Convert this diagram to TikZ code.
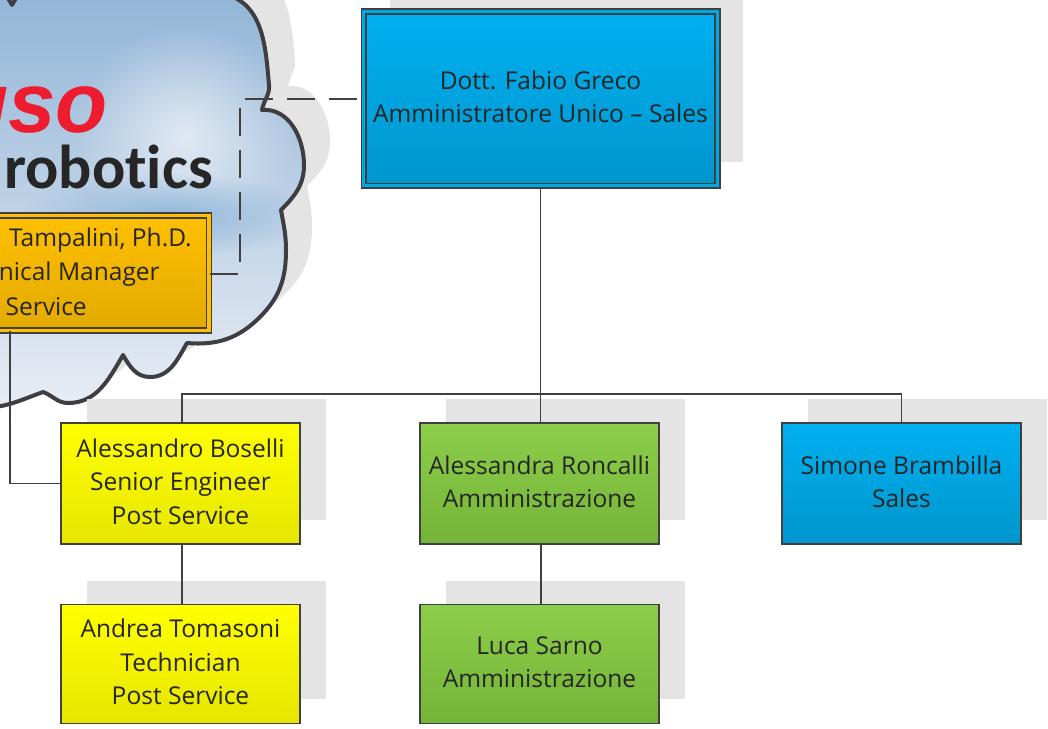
\documentclass[tikz,border=0pt]{standalone}
\usepackage{fontspec}
\setmainfont{Open Sans}
\newfontfamily\logofont[Ligatures=NoCommon]{Carlito}
\newfontfamily\redfont{Liberation Sans}
\usetikzlibrary{shadows,fadings}

\definecolor{shadowgray}{RGB}{228,228,228}
\definecolor{linegray}{RGB}{64,64,64}
\definecolor{cloudline}{RGB}{62,62,66}
\definecolor{logored}{RGB}{237,28,46}
\definecolor{cloudtop}{RGB}{142,178,214}
\definecolor{cloudmid}{RGB}{168,197,224}
\definecolor{cloudlow}{RGB}{232,237,244}
\definecolor{cloudband}{RGB}{140,180,216}
\definecolor{bluetop}{RGB}{0,176,240}
\definecolor{bluelow}{RGB}{0,150,205}
\definecolor{blueband}{RGB}{0,168,228}
\definecolor{greentop}{RGB}{140,206,74}
\definecolor{greenlow}{RGB}{116,180,56}
\definecolor{yellowtop}{RGB}{255,255,0}
\definecolor{yellowlow}{RGB}{230,230,0}
\definecolor{orangetop}{RGB}{255,192,0}
\definecolor{orangelow}{RGB}{226,170,0}
\definecolor{orangeband}{RGB}{255,190,0}

\tikzfading[name=softspot, inner color=transparent!0, outer color=transparent!100]

\newcommand{\cloudpath}{(225,-6) to[out=-15,in=95] (269,85) to[out=-85,in=80] (262,110)
  to[out=5,in=90] (304,165) to[out=-90,in=45] (281,210)
  to[out=-80,in=90] (286,250) to[out=-90,in=45] (260,317) to[out=-135,in=-5] (187,343)
  to[out=-120,in=0] (150,377) to[out=180,in=-60] (123,355)
  to[out=-120,in=0] (68,403) to[out=180,in=-20] (43,392)
  to[out=-160,in=0] (-20,408) -- (-60,408) -- (-60,-30) -- (-8,-30)
  -- (12,5) -- (32,-30) -- (225,-30) -- cycle}

\tikzset{
  chartbox/.style={draw=linegray, line width=1.1pt, minimum width=179.25pt, minimum height=90.75pt,
    align=center, text=black!85, font=\fontsize{18.4}{25}\selectfont,
    execute at end node=\rule[-3pt]{0pt}{0pt}},
  boxshadow/.style={drop shadow={shadow xshift=19.5pt, shadow yshift=18pt, opacity=1, fill=shadowgray}},
  bluebox/.style={chartbox, top color=bluetop, bottom color=bluelow},
  greenbox/.style={chartbox, top color=greentop, bottom color=greenlow},
  yellowbox/.style={chartbox, top color=yellowtop, bottom color=yellowlow},
  tamptext/.style={anchor=east, inner sep=0, text=black!85, font=\fontsize{18.4}{25}\selectfont},
  connector/.style={draw=linegray, line width=1pt}
}

\begin{document}
\begin{tikzpicture}[x=0.75pt, y=-0.75pt]
\clip (0,0) rectangle (1048,728);

% cloud and logo
\fill[shadowgray, shift={(26,-24)}] \cloudpath;
\shade[top color=cloudtop, middle color=cloudmid, bottom color=cloudlow] \cloudpath;
\begin{scope}
\clip \cloudpath;
\fill[white, opacity=.6, path fading=softspot] (185,135) circle (110);
\fill[cloudband, opacity=.9, path fading=softspot] (170,215) ellipse (150 and 42);
\end{scope}
\draw[cloudline, line width=3pt, line join=round] \cloudpath;

\node[anchor=base east, inner sep=0, text=logored, font=\redfont\fontsize{64}{64}\selectfont\bfseries\itshape] (logoso) at (108,132) {uso};
\node[anchor=base east, inner sep=0, text=black!85, font=\logofont\fontsize{46.5}{47}\selectfont\bfseries] (logorobotics) at (213,188) {robotics};

% boxes
\node[draw=linegray, line width=1.3pt, double=orangeband, double distance=2.4pt,
  top color=orangetop, bottom color=orangelow,
  minimum width=298.5pt, minimum height=86pt] (tampalini) at (10,273) {};
\node[tamptext] (tampname) at (192,240) {Tampalini, Ph.D.};
\node[tamptext] (tamprole) at (160,274) {nical Manager};
\node[tamptext] (tampdept) at (87,307) {Service};

\node[bluebox, boxshadow, line width=1.3pt, double=blueband, double distance=2.4pt,
  minimum width=265pt, minimum height=131pt] (greco) at (540.5,98.5) {Dott. Fabio Greco\\Amministratore Unico -- Sales};

\node[yellowbox, boxshadow] (boselli) at (180.5,483.5) {Alessandro Boselli\\Senior Engineer\\Post Service};
\node[yellowbox, boxshadow, minimum height=89pt] (tomasoni) at (180.5,664) {Andrea Tomasoni\\Technician\\Post Service};
\node[greenbox, boxshadow] (roncalli) at (539.5,483.5) {Alessandra Roncalli\\Amministrazione};
\node[greenbox, boxshadow, minimum height=89pt] (sarno) at (539.5,664) {Luca Sarno\\Amministrazione};
\node[bluebox, boxshadow] (brambilla) at (901.5,483.5) {Simone Brambilla\\Sales};

% connectors
\coordinate (bus) at (540.5,394);
\draw[connector] (greco.south) -- (roncalli.north -| greco.south);
\draw[connector] ([xshift=1pt]boselli.north) |- (bus) -| (brambilla.north);
\draw[connector] ([xshift=1pt]boselli.south) -- ([xshift=1pt]tomasoni.north);
\draw[connector] ([xshift=1pt]roncalli.south) -- ([xshift=1pt]sarno.north);
\draw[connector] (tampalini.south) |- (boselli.west);
\coordinate (corner) at (240,99);
\draw[connector, dash pattern=on 21pt off 10.5pt] (tampalini.east |- tamprole) -| (corner) -- (greco.west |- corner);

\end{tikzpicture}
\end{document}
